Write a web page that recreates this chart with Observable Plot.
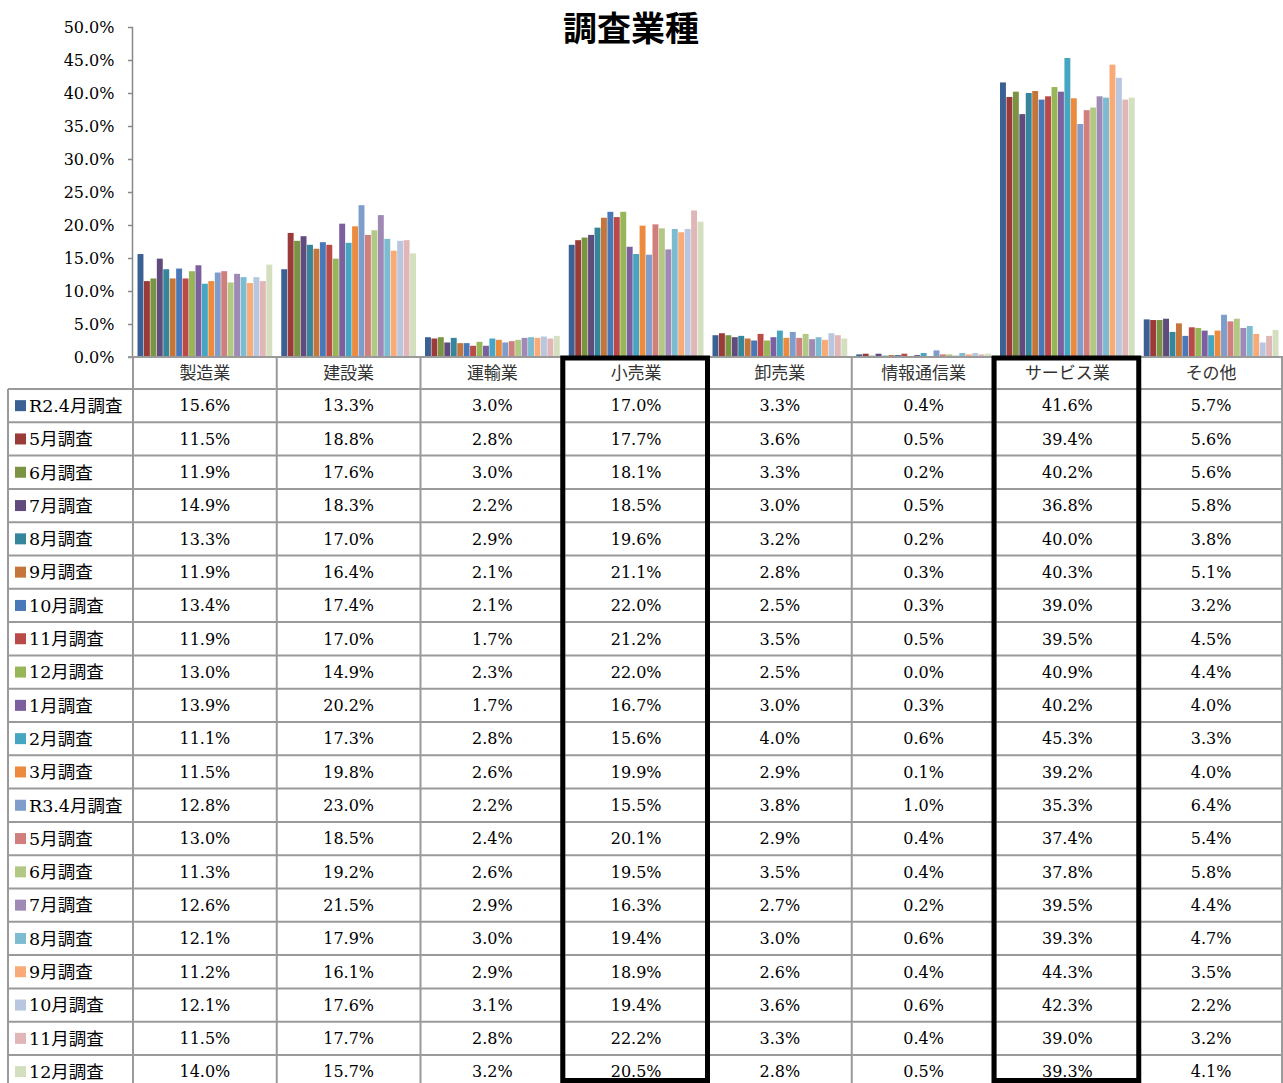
<!DOCTYPE html>
<html><head><meta charset="utf-8">
<script src="https://cdn.jsdelivr.net/npm/d3@7"></script>
<script src="https://cdn.jsdelivr.net/npm/@observablehq/plot@0.6"></script>
<style>
html,body{margin:0;padding:0;background:#fff;}
#wrap{position:relative;width:1283px;height:1083px;overflow:hidden;}
#chart{position:absolute;left:0;top:0;}
</style></head><body>
<div id="wrap"><div id="chart"></div></div>
<script>
const title = "調査業種";
const categories = ["製造業","建設業","運輸業","小売業","卸売業","情報通信業","サービス業","その他"];
const surveys = ["R2.4月調査","5月調査","6月調査","7月調査","8月調査","9月調査","10月調査","11月調査","12月調査","1月調査","2月調査","3月調査","R3.4月調査","5月調査","6月調査","7月調査","8月調査","9月調査","10月調査","11月調査","12月調査"];
const surveyColors = ["#3B6194","#9A3B39","#7A9443","#614B7D","#35859B","#C6753A","#4878B8","#BA4A48","#96B658","#7B5F9E","#46A5C0","#EC8A3E","#7F9DCB","#D07F7D","#B2C986","#9F8AB6","#7DBBD1","#F8AA77","#B8C6DF","#E0B7B6","#D3DFBE"];

// values in percent, one array per category, in survey order
const manufacturing = [15.6,11.5,11.9,14.9,13.3,11.9,13.4,11.9,13.0,13.9,11.1,11.5,12.8,13.0,11.3,12.6,12.1,11.2,12.1,11.5,14.0];
const construction  = [13.3,18.8,17.6,18.3,17.0,16.4,17.4,17.0,14.9,20.2,17.3,19.8,23.0,18.5,19.2,21.5,17.9,16.1,17.6,17.7,15.7];
const transport     = [3.0,2.8,3.0,2.2,2.9,2.1,2.1,1.7,2.3,1.7,2.8,2.6,2.2,2.4,2.6,2.9,3.0,2.9,3.1,2.8,3.2];
const retail        = [17.0,17.7,18.1,18.5,19.6,21.1,22.0,21.2,22.0,16.7,15.6,19.9,15.5,20.1,19.5,16.3,19.4,18.9,19.4,22.2,20.5];
const wholesale     = [3.3,3.6,3.3,3.0,3.2,2.8,2.5,3.5,2.5,3.0,4.0,2.9,3.8,2.9,3.5,2.7,3.0,2.6,3.6,3.3,2.8];
const infoComm      = [0.4,0.5,0.2,0.5,0.2,0.3,0.3,0.5,0.0,0.3,0.6,0.1,1.0,0.4,0.4,0.2,0.6,0.4,0.6,0.4,0.5];
const services      = [41.6,39.4,40.2,36.8,40.0,40.3,39.0,39.5,40.9,40.2,45.3,39.2,35.3,37.4,37.8,39.5,39.3,44.3,42.3,39.0,39.3];
const others        = [5.7,5.6,5.6,5.8,3.8,5.1,3.2,4.5,4.4,4.0,3.3,4.0,6.4,5.4,5.8,4.4,4.7,3.5,2.2,3.2,4.1];

const yTicks = [0,0.05,0.10,0.15,0.20,0.25,0.30,0.35,0.40,0.45,0.50];
const highlighted = ["小売業","サービス業"];

const seriesByCategory = [manufacturing,construction,transport,retail,wholesale,infoComm,services,others];
const ids = surveys.map((_, i) => i);
const data = [];
categories.forEach((c, ci) => ids.forEach(si => data.push({cat: c, sid: si, value: seriesByCategory[ci][si] / 100})));
const fmt = d3.format(".1%");
const serif = '"DejaVu Serif","Noto Sans CJK JP",serif';

const plot = Plot.plot({
  width: 1283, height: 1083,
  marginLeft: 133, marginRight: 0, marginTop: 27, marginBottom: 726,
  style: {fontFamily: serif, fontSize: "16px", color: "#000", background: "transparent", overflow: "visible"},
  fx: {domain: categories, padding: 0, round: false, axis: null},
  x: {type: "band", domain: ids, axis: null, round: false, paddingInner: 0.08, paddingOuter: 0.7},
  y: {domain: [0, 0.5], axis: null},
  color: {domain: ids, range: surveyColors},
  marks: [
    Plot.barY(data, {fx: "cat", x: "sid", y: "value", fill: "sid"}),
    Plot.axisY({ticks: yTicks, tickFormat: fmt, tickSize: 5, tickPadding: 14, stroke: "#888", strokeWidth: 1.5, label: null, fontSize: 16, fill: "#000"})
  ]
});
document.getElementById("chart").appendChild(plot);

// Data table drawn under the plot, aligned with the fx scale
const fx = plot.scale("fx");
const ys = plot.scale("y");
const bw = fx.bandwidth;
const x0 = fx.apply(categories[0]);
const xEnd = fx.apply(categories[categories.length - 1]) + bw;
const y0 = ys.apply(0), yTop = ys.apply(0.5);
const headerH = 32, rowH = 33.3;
const rowTop = y0 + headerH;
const leftX = 8;
const H = 1083;
const svg = d3.select(plot);
const g = svg.append("g").attr("text-anchor", "start");
const grid = "#9a9a9a";

// title
g.append("text").attr("x", 631).attr("y", 41).attr("text-anchor", "middle")
  .attr("font-family", '"Noto Sans CJK JP",sans-serif').attr("font-weight", 700).attr("font-size", 34).attr("fill", "#000").text(title);

// y axis line
g.append("line").attr("x1", x0 - 0.5).attr("x2", x0 - 0.5).attr("y1", yTop).attr("y2", y0).attr("stroke", "#888").attr("stroke-width", 1.5);
// header top border
g.append("line").attr("x1", x0 - 5).attr("x2", xEnd).attr("y1", y0).attr("y2", y0).attr("stroke", grid).attr("stroke-width", 2);
// vertical lines
categories.forEach(c => {
  const x = fx.apply(c);
  g.append("line").attr("x1", x).attr("x2", x).attr("y1", y0).attr("y2", H).attr("stroke", grid).attr("stroke-width", 2);
});
g.append("line").attr("x1", xEnd - 1).attr("x2", xEnd - 1).attr("y1", y0).attr("y2", H).attr("stroke", grid).attr("stroke-width", 2);
g.append("line").attr("x1", leftX).attr("x2", leftX).attr("y1", rowTop).attr("y2", H).attr("stroke", grid).attr("stroke-width", 2);
// horizontal row lines
surveys.forEach((s, i) => {
  const y = rowTop + i * rowH;
  g.append("line").attr("x1", leftX).attr("x2", xEnd).attr("y1", y).attr("y2", y).attr("stroke", grid).attr("stroke-width", 2);
});
// header labels
categories.forEach(c => {
  g.append("text").attr("x", fx.apply(c) + bw / 2).attr("y", y0 + headerH / 2).attr("dy", "0.36em")
    .attr("text-anchor", "middle").attr("fill", "#333").attr("font-family", '"Noto Sans CJK JP",sans-serif').attr("font-size", 17).text(c);
});
// rows
surveys.forEach((s, i) => {
  const cy = rowTop + i * rowH + rowH / 2;
  g.append("rect").attr("x", 15).attr("y", cy - 5.5).attr("width", 11).attr("height", 11).attr("fill", surveyColors[i]);
  g.append("text").attr("x", 29).attr("y", cy).attr("dy", "0.36em").attr("text-anchor", "start")
    .attr("font-family", serif).attr("font-size", 17.5).attr("fill", "#000").text(s);
  categories.forEach((c, ci) => {
    g.append("text").attr("x", fx.apply(c) + bw / 2).attr("y", cy).attr("dy", "0.36em")
      .attr("text-anchor", "middle").attr("font-family", serif).attr("font-size", 16).attr("fill", "#000")
      .text(fmt(seriesByCategory[ci][i] / 100));
  });
});
// thick boxes around highlighted columns
highlighted.forEach(c => {
  const x = fx.apply(c);
  g.append("rect").attr("x", x - 1.5).attr("y", y0 + 1).attr("width", bw + 1).attr("height", H - y0 - 3.5)
    .attr("fill", "none").attr("stroke", "#000").attr("stroke-width", 5);
});
</script>
</body></html>
